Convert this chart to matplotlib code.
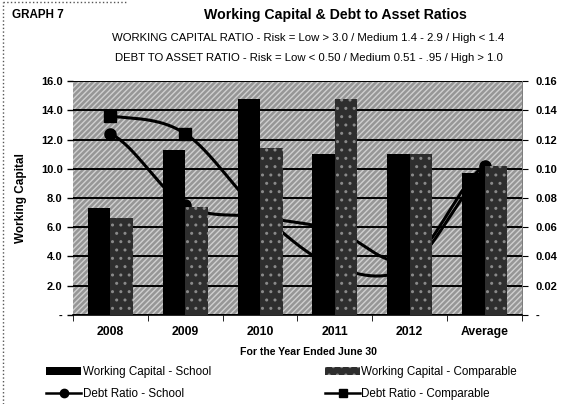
import numpy as np
import matplotlib.pyplot as plt
from matplotlib.patches import Rectangle, Patch
from matplotlib.lines import Line2D

plt.rcParams['font.family'] = ['Liberation Sans', 'DejaVu Sans']

# chart data
years = ["2008", "2009", "2010", "2011", "2012", "Average"]
wc_school = [7.3, 11.3, 14.8, 11.0, 11.0, 9.7]
wc_comp = [6.6, 7.4, 11.4, 14.8, 11.0, 10.2]
debt_school = [0.124, 0.075, 0.067, 0.058, 0.038, 0.102]
debt_comp = [0.136, 0.124, 0.070, 0.033, 0.033, 0.096]

left_ticks = [0, 2, 4, 6, 8, 10, 12, 14, 16]
right_ticks = [0, 0.02, 0.04, 0.06, 0.08, 0.10, 0.12, 0.14, 0.16]


def smooth(vals, n=40):
    # Catmull-Rom curve through the points (like Excel "smoothed line")
    y = np.asarray(vals, dtype=float)
    yp = np.concatenate([[y[0]], y, [y[-1]]])
    xs, ys = [], []
    t = np.linspace(0, 1, n)
    for i in range(len(y) - 1):
        p0, p1, p2, p3 = yp[i:i + 4]
        seg = 0.5 * (2 * p1 + (-p0 + p2) * t + (2 * p0 - 5 * p1 + 4 * p2 - p3) * t ** 2
                     + (-p0 + 3 * p1 - 3 * p2 + p3) * t ** 3)
        xs.append(i + t)
        ys.append(seg)
    return np.concatenate(xs), np.concatenate(ys)


fig = plt.figure(figsize=(5.82, 4.04), dpi=100)
ax = fig.add_axes([0.1254, 0.2203, 0.7715, 0.5792])
ax2 = ax.twinx()
# bars (ax) on top of the lines (ax2)
ax.set_zorder(ax2.get_zorder() + 1)
ax.patch.set_visible(False)
ax2.patch.set_visible(True)

x = np.arange(len(years))

# background of plot area (grey dithered look)
ax2.set_facecolor('#969696')
ax2.add_patch(Rectangle((0, 0), 1, 1, transform=ax2.transAxes, facecolor='none',
                        edgecolor='#d0d0d0', hatch='//////', linewidth=0, zorder=0))

# debt ratio lines (drawn behind the bars)
sx, sy = smooth(debt_school)
cx, cy = smooth(debt_comp)
ax2.plot(sx, sy, color='black', lw=2.2, zorder=2)
ax2.plot(cx, cy, color='black', lw=2.2, zorder=2)
ax2.plot(x, debt_school, 'o', color='black', ms=8, zorder=2)
ax2.plot(x, debt_comp, 's', color='black', ms=8, zorder=2)
ax2.set_ylim(0, 0.16)
ax2.set_yticks(right_ticks)
ax2.set_yticklabels(['-'] + [f"{v:.2f}" for v in right_ticks[1:]])

# working capital bars
w = 0.3
ax.bar(x - w / 2, wc_school, width=w, color='black', zorder=3)
ax.bar(x + w / 2, wc_comp, width=w, color='#2e2e2e', edgecolor='#8a8a8a',
       hatch='..', linewidth=0, zorder=3)
ax.set_ylim(0, 16)
ax.set_yticks(left_ticks)
ax.set_yticklabels(['-'] + [f"{v:.1f}" for v in left_ticks[1:]])
ax.grid(axis='y', color='black', lw=1.4, zorder=1)
ax.set_axisbelow(True)
ax.set_xlim(-0.5, len(years) - 0.5)
ax.set_xticks(x)
ax.set_xticklabels(years)
ax.set_xticks(np.arange(-0.5, len(years)), minor=True)
ax.tick_params(axis='x', which='major', length=0, pad=8)
ax.tick_params(axis='x', which='minor', length=4, direction='out')
ax.set_ylabel("Working Capital", fontsize=8.5, fontweight='bold', labelpad=10)

for a in (ax, ax2):
    for s in a.spines.values():
        s.set_visible(False)
ax.spines['bottom'].set_visible(True)
ax.spines['bottom'].set_linewidth(1.2)
ax2.spines['right'].set_visible(True)
ax2.spines['right'].set_color('#666666')
ax2.spines['right'].set_linewidth(0.6)

for lab in ax.get_yticklabels() + ax2.get_yticklabels():
    lab.set_fontsize(8)
    lab.set_fontweight('bold')
for lab in ax.get_xticklabels():
    lab.set_fontsize(8.8)
    lab.set_fontweight('bold')
ax.tick_params(axis='y', length=4, width=1)
ax2.tick_params(axis='y', length=4, width=0.8, pad=6)

# titles
fig.text(0.021, 0.962, "GRAPH 7", fontsize=8.4, fontweight='bold', va='center')
fig.text(0.576, 0.962, "Working Capital & Debt to Asset Ratios", fontsize=10.2,
         fontweight='bold', ha='center', va='center')
fig.text(0.53, 0.905, "WORKING CAPITAL RATIO - Risk = Low > 3.0 / Medium 1.4 - 2.9 / High < 1.4",
         fontsize=8.2, ha='center', va='center')
fig.text(0.53, 0.856, "DEBT TO ASSET RATIO - Risk = Low < 0.50 / Medium 0.51 - .95 / High > 1.0",
         fontsize=8.2, ha='center', va='center')
fig.text(0.53, 0.128, "For the Year Ended June 30", fontsize=7.6, fontweight='bold',
         ha='center', va='center')

handles = [
    Patch(facecolor='black'),
    Line2D([], [], color='black', marker='o', lw=1.8, ms=6),
    Patch(facecolor='#2e2e2e', edgecolor='#8a8a8a', hatch='..', linewidth=0),
    Line2D([], [], color='black', marker='s', lw=1.8, ms=6),
]
labels = ["Working Capital - School", "Debt Ratio - School",
          "Working Capital - Comparable", "Debt Ratio - Comparable"]
fig.legend(handles, labels, ncol=2, loc='center', bbox_to_anchor=(0.484, 0.052),
           frameon=False, fontsize=8.4, columnspacing=9.8, handlelength=3.0,
           handletextpad=0.1, labelspacing=0.85, handleheight=0.6)

# outer border of the scanned page
fig.add_artist(Line2D([0.006, 0.006], [0, 0.995], color='#555555', lw=1,
                      linestyle=':', transform=fig.transFigure))
fig.add_artist(Line2D([0.006, 0.22], [0.995, 0.995], color='#555555', lw=1,
                      linestyle=':', transform=fig.transFigure))

fig.savefig("out.png", dpi=100)
